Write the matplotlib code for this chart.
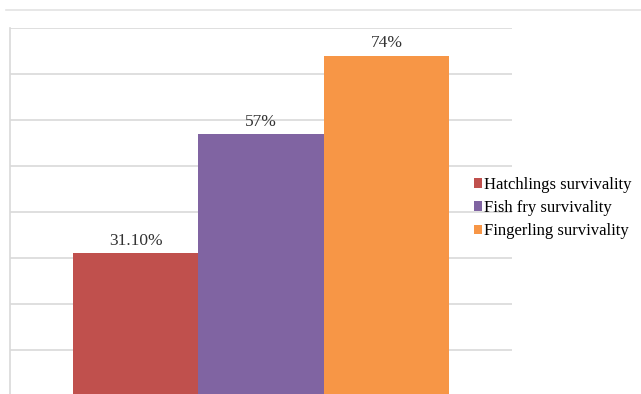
import matplotlib
matplotlib.use('Agg')
import matplotlib.pyplot as plt
from matplotlib.lines import Line2D

# Survival rates by stage (%)
stages = ['Hatchlings survivality', 'Fish fry survivality', 'Fingerling survivality']
rates = [31.1, 57, 74]
rate_labels = ['31.10%', '57%', '74%']
colors = ['#C0504D', '#8064A2', '#F79646']

plt.rcParams['font.family'] = ['Liberation Serif', 'DejaVu Serif']

fig = plt.figure(figsize=(6.41, 3.94), dpi=100)
ax = fig.add_axes([10 / 641, -2 / 394, 502 / 641, 368 / 394])

width = 0.25
for i, (name, val, lab, c) in enumerate(zip(stages, rates, rate_labels, colors)):
    x = (i - 1) * width
    bars = ax.bar(x, val, width=width, color=c, label=name, zorder=2)
    ax.bar_label(bars, labels=[lab], padding=3, fontsize=12.5, color='#333333')

ax.set_xlim(-0.5, 0.5)
ax.set_ylim(0, 80)
ax.set_yticks(range(0, 81, 10))
ax.yaxis.grid(True, color='#D9D9D9', linewidth=1.2, zorder=0)
ax.tick_params(left=False, bottom=False, labelleft=False, labelbottom=False)
for side in ['top', 'right', 'bottom']:
    ax.spines[side].set_visible(False)
ax.spines['left'].set_color('#D9D9D9')
ax.spines['left'].set_linewidth(1.2)

ax.legend(loc='center left', bbox_to_anchor=(474 / 641, 1 - 208 / 394),
          bbox_transform=fig.transFigure, frameon=False, fontsize=12,
          borderaxespad=0, borderpad=0, handlelength=0.5, handleheight=0.5,
          handletextpad=0.1, labelspacing=0.44)

# thin rule across the top of the page
fig.add_artist(Line2D([6 / 641, 1], [1 - 10 / 394, 1 - 10 / 394],
                      color='#E3E3E3', linewidth=1.2, transform=fig.transFigure))

fig.savefig('out.png', dpi=100)
plt.close()
